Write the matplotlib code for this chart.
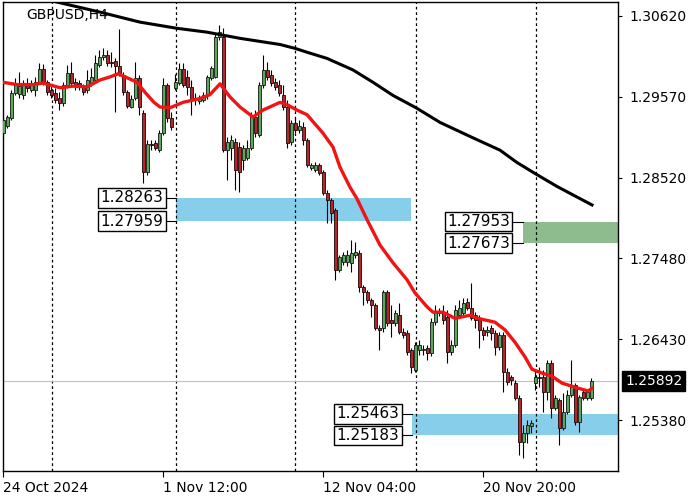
import numpy as np
import matplotlib.pyplot as plt
from matplotlib.transforms import blended_transform_factory

# H4 candles (one entry per bar, oldest first)
opens = [1.2910, 1.2919, 1.2930, 1.2962, 1.2961, 1.2960, 1.2975, 1.2966, 1.2966, 1.2976,
         1.2993, 1.2976, 1.2966, 1.2962, 1.2956, 1.2949, 1.2973, 1.2988, 1.2976, 1.2975,
         1.2971, 1.2966, 1.2975, 1.2979, 1.2998, 1.3009, 1.3011, 1.3002, 1.3004, 1.2997,
         1.2986, 1.2963, 1.2944, 1.2956, 1.2982, 1.2936, 1.2860, 1.2896, 1.2897, 1.2888,
         1.2910, 1.2973, 1.2930, 1.2969, 1.2975, 1.2993, 1.2983, 1.2970, 1.2956, 1.2952,
         1.2953, 1.2960, 1.2982, 1.2983, 1.3035, 1.3035, 1.2888, 1.2891, 1.2899, 1.2892,
         1.2875, 1.2878, 1.2891, 1.2931, 1.2908, 1.2973, 1.2992, 1.2986, 1.2976, 1.2973,
         1.2960, 1.2944, 1.2899, 1.2923, 1.2914, 1.2918, 1.2901, 1.2865, 1.2862, 1.2869,
         1.2860, 1.2832, 1.2823, 1.2810, 1.2733, 1.2743, 1.2743, 1.2742, 1.2752, 1.2755,
         1.2711, 1.2704, 1.2694, 1.2687, 1.2657, 1.2657, 1.2704, 1.2668, 1.2664, 1.2674,
         1.2652, 1.2651, 1.2629, 1.2603, 1.2629, 1.2629, 1.2632, 1.2625, 1.2665, 1.2677,
         1.2678, 1.2672, 1.2626, 1.2635, 1.2674, 1.2677, 1.2691, 1.2683, 1.2674, 1.2670,
         1.2655, 1.2652, 1.2657, 1.2651, 1.2633, 1.2648, 1.2601, 1.2594, 1.2586, 1.2567,
         1.2510, 1.2521, 1.2530, 1.2586, 1.2594, 1.2594, 1.2575, 1.2612, 1.2554, 1.2564,
         1.2528, 1.2549, 1.2571, 1.2584, 1.2536, 1.2575, 1.2567, 1.2567]
highs = [1.2931, 1.2934, 1.2966, 1.2982, 1.2989, 1.2979, 1.2982, 1.2979, 1.2983, 1.3001,
         1.3000, 1.2979, 1.2973, 1.2969, 1.2963, 1.2976, 1.2998, 1.3002, 1.2982, 1.2979,
         1.2974, 1.2992, 1.2995, 1.3011, 1.3018, 1.3020, 1.3018, 1.3015, 1.3007, 1.3045,
         1.2989, 1.2966, 1.2960, 1.3002, 1.2986, 1.2940, 1.2901, 1.2901, 1.2901, 1.2914,
         1.2982, 1.2975, 1.2938, 1.2987, 1.3001, 1.3001, 1.2992, 1.2979, 1.2962, 1.2960,
         1.2963, 1.2986, 1.2997, 1.3040, 1.3050, 1.3046, 1.2905, 1.2908, 1.2904, 1.2899,
         1.2895, 1.2901, 1.2938, 1.2940, 1.2976, 1.3011, 1.3002, 1.2992, 1.2982, 1.2979,
         1.2973, 1.2953, 1.2927, 1.2930, 1.2927, 1.2925, 1.2904, 1.2871, 1.2873, 1.2871,
         1.2862, 1.2836, 1.2826, 1.2813, 1.2752, 1.2756, 1.2759, 1.2772, 1.2769, 1.2759,
         1.2713, 1.2707, 1.2696, 1.2690, 1.2661, 1.2707, 1.2707, 1.2687, 1.2681, 1.2690,
         1.2657, 1.2655, 1.2632, 1.2639, 1.2642, 1.2635, 1.2635, 1.2670, 1.2687, 1.2683,
         1.2687, 1.2681, 1.2642, 1.2687, 1.2694, 1.2696, 1.2696, 1.2716, 1.2678, 1.2674,
         1.2659, 1.2660, 1.2661, 1.2655, 1.2652, 1.2652, 1.2606, 1.2597, 1.2590, 1.2571,
         1.2532, 1.2538, 1.2538, 1.2603, 1.2607, 1.2603, 1.2616, 1.2616, 1.2571, 1.2567,
         1.2573, 1.2577, 1.2616, 1.2586, 1.2571, 1.2577, 1.2577, 1.2593]
lows = [1.2905, 1.2917, 1.2927, 1.2960, 1.2956, 1.2954, 1.2963, 1.2963, 1.2958, 1.2974,
        1.2973, 1.2960, 1.2956, 1.2949, 1.2940, 1.2945, 1.2969, 1.2971, 1.2966, 1.2966,
        1.2960, 1.2962, 1.2971, 1.2976, 1.2996, 1.3005, 1.2997, 1.2996, 1.2937, 1.2984,
        1.2960, 1.2943, 1.2943, 1.2953, 1.2934, 1.2845, 1.2856, 1.2888, 1.2888, 1.2886,
        1.2908, 1.2925, 1.2914, 1.2966, 1.2973, 1.2970, 1.2960, 1.2934, 1.2947, 1.2948,
        1.2950, 1.2954, 1.2979, 1.2982, 1.3031, 1.2886, 1.2849, 1.2875, 1.2836, 1.2834,
        1.2862, 1.2875, 1.2888, 1.2905, 1.2905, 1.2969, 1.2979, 1.2971, 1.2966, 1.2958,
        1.2940, 1.2891, 1.2895, 1.2910, 1.2910, 1.2895, 1.2866, 1.2862, 1.2860, 1.2856,
        1.2830, 1.2794, 1.2794, 1.2720, 1.2730, 1.2739, 1.2738, 1.2730, 1.2748, 1.2704,
        1.2687, 1.2690, 1.2672, 1.2655, 1.2629, 1.2652, 1.2660, 1.2646, 1.2660, 1.2650,
        1.2644, 1.2623, 1.2599, 1.2601, 1.2623, 1.2623, 1.2616, 1.2621, 1.2661, 1.2673,
        1.2663, 1.2612, 1.2623, 1.2633, 1.2670, 1.2674, 1.2681, 1.2668, 1.2657, 1.2632,
        1.2642, 1.2647, 1.2642, 1.2623, 1.2629, 1.2575, 1.2584, 1.2584, 1.2564, 1.2493,
        1.2489, 1.2508, 1.2521, 1.2577, 1.2581, 1.2549, 1.2564, 1.2541, 1.2551, 1.2506,
        1.2525, 1.2546, 1.2568, 1.2532, 1.2523, 1.2564, 1.2564, 1.2564]
closes = [1.2927, 1.2931, 1.2962, 1.2973, 1.2971, 1.2973, 1.2969, 1.2975, 1.2976, 1.2993,
          1.2976, 1.2963, 1.2960, 1.2953, 1.2949, 1.2973, 1.2988, 1.2975, 1.2973, 1.2970,
          1.2963, 1.2979, 1.2983, 1.3001, 1.3009, 1.3011, 1.3001, 1.3001, 1.2997, 1.2988,
          1.2963, 1.2945, 1.2954, 1.2982, 1.2944, 1.2860, 1.2896, 1.2895, 1.2891, 1.2910,
          1.2973, 1.2930, 1.2918, 1.2976, 1.2993, 1.2973, 1.2970, 1.2954, 1.2954, 1.2956,
          1.2960, 1.2983, 1.2995, 1.3035, 1.3041, 1.2888, 1.2899, 1.2901, 1.2862, 1.2860,
          1.2891, 1.2891, 1.2931, 1.2910, 1.2973, 1.2992, 1.2983, 1.2975, 1.2970, 1.2962,
          1.2944, 1.2897, 1.2923, 1.2914, 1.2919, 1.2901, 1.2869, 1.2869, 1.2869, 1.2858,
          1.2832, 1.2823, 1.2807, 1.2733, 1.2750, 1.2752, 1.2752, 1.2755, 1.2756, 1.2711,
          1.2704, 1.2694, 1.2687, 1.2657, 1.2655, 1.2704, 1.2664, 1.2664, 1.2677, 1.2652,
          1.2648, 1.2626, 1.2607, 1.2635, 1.2635, 1.2630, 1.2625, 1.2665, 1.2678, 1.2678,
          1.2668, 1.2626, 1.2635, 1.2681, 1.2683, 1.2690, 1.2683, 1.2670, 1.2668, 1.2655,
          1.2648, 1.2655, 1.2651, 1.2633, 1.2648, 1.2601, 1.2587, 1.2590, 1.2567, 1.2510,
          1.2521, 1.2532, 1.2534, 1.2594, 1.2593, 1.2575, 1.2612, 1.2554, 1.2567, 1.2528,
          1.2549, 1.2571, 1.2584, 1.2536, 1.2568, 1.2567, 1.2575, 1.25892]

# moving averages, sampled along the drawn lines (bar index, price)
ma_fast_idx = [0, 3.5, 7.5, 10, 14.25, 17.5, 21, 24.25, 26.75, 28.75, 31, 33.5, 35.5, 37.75,
               39.25, 41.75, 45, 49.25, 51.75, 54.25, 56.75, 59.25, 62.5, 65, 69.25, 71, 73.5,
               76, 80, 82.5, 84.25, 86.75, 88.5, 91, 94.25, 97.5, 101, 103, 106, 107.5, 110,
               113, 116.75, 118.75, 123, 125.5, 128, 130.5, 132.25, 134.75, 137.25, 139.75,
               142.25, 144.75, 146.25, 147.25]
ma_fast = [1.2976, 1.2973, 1.2973, 1.2975, 1.2969, 1.2971, 1.2970, 1.2979, 1.2983, 1.2987,
           1.2982, 1.2976, 1.2963, 1.2950, 1.2944, 1.2943, 1.2950, 1.2955, 1.2960, 1.2974,
           1.2957, 1.2944, 1.2931, 1.2940, 1.2950, 1.2947, 1.2940, 1.2934, 1.2910, 1.2892,
           1.2866, 1.2840, 1.2825, 1.2798, 1.2765, 1.2742, 1.2720, 1.2703, 1.2685, 1.2678,
           1.2678, 1.2670, 1.2674, 1.2670, 1.2665, 1.2655, 1.2639, 1.2620, 1.2604, 1.2599,
           1.2595, 1.2586, 1.2582, 1.2578, 1.2576, 1.2579]
ma_slow_idx = [13.5, 24.25, 34.25, 43.5, 51, 59.25, 64.25, 69.25, 73, 76, 81, 87.5, 92.5,
               97.5, 103.25, 109.25, 117.5, 124.25, 128.5, 133.25, 138.5, 142.5, 147.25]
ma_slow = [1.3080, 1.3067, 1.3054, 1.3046, 1.3041, 1.3033, 1.3029, 1.3025, 1.3020, 1.3015,
           1.3007, 1.2992, 1.2976, 1.2959, 1.2943, 1.2924, 1.2904, 1.2888, 1.2872, 1.2857,
           1.2841, 1.2830, 1.2817]

# supply / demand zones
zone_tops = [1.28263, 1.27953, 1.25463]
zone_bottoms = [1.27959, 1.27673, 1.25183]
zone_starts = [43.2, 129.9, 102.2]
zone_ends = [101.9, None, None]  # None = runs to the right edge
zone_colors = ['#87ceeb', '#8fbc8f', '#87ceeb']

last_price = 1.25892
y_ticks = [1.30620, 1.29570, 1.28520, 1.27480, 1.26430, 1.25380]
x_tick_idx = [0, 40, 80, 120]
x_tick_labels = ['24 Oct 2024', '1 Nov 12:00', '12 Nov 04:00', '20 Nov 20:00']
week_starts = [12.2, 43.2, 73, 103.2, 133.2]

fig = plt.figure(figsize=(7, 5), dpi=100)
ax = fig.add_axes([2.5 / 700, 29 / 500, 615.5 / 700, 469 / 500])
x_right = 153.75
ax.set_xlim(-0.125, x_right)
ax.set_ylim(1.24721, 1.30801)

idx = np.arange(len(closes))
o = np.array(opens)
c = np.array(closes)
up = c >= o

# zones
for top, bot, x0, x1, col in zip(zone_tops, zone_bottoms, zone_starts, zone_ends, zone_colors):
    x1 = x_right if x1 is None else x1
    ax.fill_between([x0, x1], bot, top, color=col, lw=0, zorder=1)
    for lvl in (top, bot):
        ax.plot([x0 - 2.5, x0], [lvl, lvl], color='black', lw=0.8, zorder=2)
        ax.text(x0 - 3.1, lvl, f'{lvl:.5f}', ha='right', va='center', fontsize=11,
                bbox=dict(boxstyle='square,pad=0.15', fc='white', ec='black', lw=1), zorder=6)

# week separators and current price line
for w in week_starts:
    ax.axvline(w, color='black', lw=0.9, ls=(0, (2.2, 2.2)), zorder=1.5)
ax.axhline(last_price, color='#c0c0c0', lw=0.8, zorder=1.5)

# candles
ax.vlines(idx, lows, highs, color='black', lw=0.8, zorder=3)
body_bot = np.minimum(o, c)
body_h = np.maximum(np.abs(c - o), 0.00004)
ax.bar(idx[up], body_h[up], bottom=body_bot[up], width=0.75, color='#5ea55e',
       edgecolor='#101a10', lw=0.6, zorder=4)
ax.bar(idx[~up], body_h[~up], bottom=body_bot[~up], width=0.75, color='#b3262a',
       edgecolor='#200606', lw=0.6, zorder=4)

# moving averages
ax.plot(ma_slow_idx, ma_slow, color='black', lw=2.2, zorder=5)
ax.plot(ma_fast_idx, ma_fast, color='#f01414', lw=2.4, zorder=5)

ax.text(0.038, 0.972, 'GBPUSD,H4', transform=ax.transAxes, fontsize=10,
        ha='left', va='center')

# axes styling
for s in ax.spines.values():
    s.set_color('black')
    s.set_linewidth(1)
ax.yaxis.tick_right()
ax.set_yticks(y_ticks)
ax.set_yticklabels([f'{v:.5f}' for v in y_ticks])
ax.tick_params(axis='y', direction='out', length=3, pad=5, labelsize=10)
ax.set_xticks(x_tick_idx)
ax.set_xticklabels(x_tick_labels)
for lab in ax.get_xticklabels():
    lab.set_ha('left')
ax.tick_params(axis='x', direction='out', length=4, pad=3, labelsize=10)

trans = blended_transform_factory(ax.transAxes, ax.transData)
ax.text(1.0115, last_price, f'{last_price:.5f}', transform=trans, ha='left', va='center',
        color='white', fontsize=10,
        bbox=dict(boxstyle='square,pad=0.22', fc='black', ec='black'))

fig.savefig('out.png', dpi=100)
